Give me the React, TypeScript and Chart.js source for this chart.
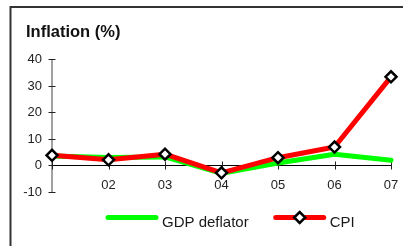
import React, { useEffect, useRef } from 'react';
import { Chart, registerables } from 'chart.js';

Chart.register(...registerables);

const categories = ['01', '02', '03', '04', '05', '06', '07'];
const xTickLabels = ['', '02', '03', '04', '05', '06', '07'];
const gdpDeflator = [3.5, 3.0, 3.2, -3.0, 0.9, 4.2, 1.9];
const cpi = [3.8, 2.1, 4.2, -2.8, 2.9, 6.9, 33.3];
const yTickValues = [40, 30, 20, 10, 0, -10];
const seriesNames = ['GDP deflator', 'CPI'];
const chartTitle = 'Inflation (%)';

const FONT = 'Arial, "Liberation Sans", sans-serif';

function diamond(ctx: CanvasRenderingContext2D, cx: number, cy: number, r: number) {
  ctx.beginPath();
  ctx.moveTo(cx - r, cy);
  ctx.lineTo(cx, cy - r);
  ctx.lineTo(cx + r, cy);
  ctx.lineTo(cx, cy + r);
  ctx.closePath();
  ctx.fillStyle = '#ffffff';
  ctx.fill();
  ctx.lineWidth = 2.5;
  ctx.strokeStyle = '#000000';
  ctx.stroke();
}

const framePlugin = {
  id: 'frameAndAxes',
  beforeDraw(chart: any) {
    const ctx: CanvasRenderingContext2D = chart.ctx;
    ctx.save();
    ctx.fillStyle = '#ffffff';
    ctx.fillRect(0, 0, chart.width, chart.height);
    // outer frame (top and left edges visible)
    ctx.strokeStyle = '#333333';
    ctx.lineWidth = 2;
    ctx.beginPath();
    ctx.moveTo(10.5, chart.height + 2);
    ctx.lineTo(10.5, 7);
    ctx.lineTo(chart.width + 2, 7);
    ctx.stroke();
    // title
    ctx.font = `bold 16.5px ${FONT}`;
    ctx.fillStyle = '#111111';
    ctx.textBaseline = 'alphabetic';
    ctx.textAlign = 'left';
    ctx.fillText(chartTitle, 26, 37);
    ctx.restore();
  },
  beforeDatasetsDraw(chart: any) {
    const ctx: CanvasRenderingContext2D = chart.ctx;
    const xs = chart.scales.x;
    const ys = chart.scales.y;
    const y0 = ys.getPixelForValue(0);
    const xLeft = xs.getPixelForValue(0);
    const xRight = xs.getPixelForValue(categories.length - 1);
    ctx.save();
    // y axis line
    ctx.strokeStyle = '#808080';
    ctx.lineWidth = 1.5;
    ctx.beginPath();
    ctx.moveTo(xLeft, ys.getPixelForValue(yTickValues[0]));
    ctx.lineTo(xLeft, ys.getPixelForValue(yTickValues[yTickValues.length - 1]));
    ctx.stroke();
    // y ticks and labels
    ctx.font = `13px ${FONT}`;
    ctx.textAlign = 'right';
    ctx.textBaseline = 'middle';
    yTickValues.forEach((v) => {
      const py = Math.round(ys.getPixelForValue(v)) + 0.5;
      ctx.strokeStyle = '#222222';
      ctx.lineWidth = 1;
      ctx.beginPath();
      ctx.moveTo(xLeft - 3.5, py);
      ctx.lineTo(xLeft + 3.5, py);
      ctx.stroke();
      ctx.fillStyle = '#222222';
      ctx.fillText(String(v), xLeft - 10, py);
    });
    // x axis line at zero
    const py0 = Math.round(y0) + 0.5;
    ctx.strokeStyle = '#000000';
    ctx.lineWidth = 1;
    ctx.beginPath();
    ctx.moveTo(xLeft, py0);
    ctx.lineTo(xRight, py0);
    ctx.stroke();
    // x ticks and labels
    ctx.textAlign = 'center';
    ctx.textBaseline = 'middle';
    categories.forEach((_, i) => {
      const px = Math.round(xs.getPixelForValue(i)) + 0.5;
      ctx.strokeStyle = '#222222';
      ctx.beginPath();
      ctx.moveTo(px, py0 - 4);
      ctx.lineTo(px, py0 + 4);
      ctx.stroke();
      if (xTickLabels[i]) {
        ctx.fillStyle = '#222222';
        ctx.fillText(xTickLabels[i], xs.getPixelForValue(i), y0 + 20);
      }
    });
    ctx.restore();
  },
  afterDraw(chart: any) {
    const ctx: CanvasRenderingContext2D = chart.ctx;
    ctx.save();
    ctx.font = `15px ${FONT}`;
    const lineLen = 52;
    const gapText = 4;
    const gapItems = 25;
    const lineY = 217.5;
    let x = 106;
    chart.data.datasets.forEach((ds: any) => {
      ctx.strokeStyle = ds.borderColor;
      ctx.lineWidth = ds.borderWidth;
      ctx.lineCap = 'round';
      ctx.beginPath();
      ctx.moveTo(x + 2, lineY);
      ctx.lineTo(x + lineLen - 2, lineY);
      ctx.stroke();
      if (ds.pointRadius > 0) {
        diamond(ctx, x + lineLen / 2, lineY, ds.pointRadius);
      }
      x += lineLen + gapText;
      ctx.fillStyle = '#1a1a1a';
      ctx.textAlign = 'left';
      ctx.textBaseline = 'alphabetic';
      ctx.fillText(ds.label, x, 226.5);
      x += ctx.measureText(ds.label).width + gapItems;
    });
    ctx.restore();
  },
};

export default function App() {
  const canvasRef = useRef<HTMLCanvasElement | null>(null);

  useEffect(() => {
    if (!canvasRef.current) return;
    const chart = new Chart(canvasRef.current, {
      type: 'line',
      data: {
        labels: categories,
        datasets: [
          {
            label: seriesNames[0],
            data: gdpDeflator,
            borderColor: '#00ff00',
            backgroundColor: '#00ff00',
            borderWidth: 5,
            pointRadius: 0,
            pointHoverRadius: 0,
            tension: 0,
            borderCapStyle: 'round',
            borderJoinStyle: 'round',
            clip: false,
            order: 1,
          },
          {
            label: seriesNames[1],
            data: cpi,
            borderColor: '#ff0000',
            backgroundColor: '#ffffff',
            borderWidth: 5,
            pointStyle: 'rectRot',
            pointRadius: 5.5,
            pointHoverRadius: 5.5,
            pointBackgroundColor: '#ffffff',
            pointBorderColor: '#000000',
            pointBorderWidth: 2.5,
            tension: 0,
            borderCapStyle: 'round',
            borderJoinStyle: 'round',
            clip: false,
            order: 0,
          },
        ],
      } as any,
      options: {
        animation: false,
        responsive: false,
        maintainAspectRatio: false,
        devicePixelRatio: 1,
        layout: { padding: { left: 52, top: 59, right: 12, bottom: 54 } },
        plugins: {
          legend: { display: false },
          title: { display: false },
          tooltip: { enabled: false },
        },
        scales: {
          x: { type: 'category', display: false, offset: false },
          y: { type: 'linear', display: false, min: -10, max: 40 },
        },
      } as any,
      plugins: [framePlugin],
    });
    return () => chart.destroy();
  }, []);

  return (
    <div style={{ position: 'absolute', left: 0, top: 0, width: 403, height: 246, background: '#fff' }}>
      <canvas ref={canvasRef} width={403} height={246} style={{ display: 'block', width: 403, height: 246 }} />
    </div>
  );
}
